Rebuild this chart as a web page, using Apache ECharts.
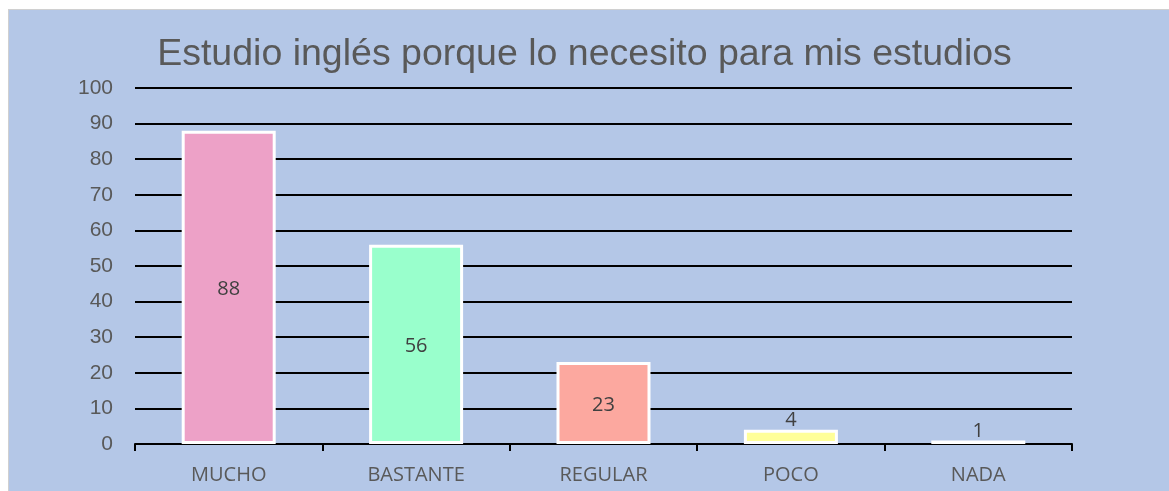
<!DOCTYPE html>
<html><head><meta charset="utf-8">
<script src="https://cdn.jsdelivr.net/npm/echarts@6/dist/echarts.min.js"></script>
<style>
html,body{margin:0;padding:0;background:#fff;}
#frame{position:absolute;left:8px;top:9px;width:1161px;height:482px;background:#B4C7E7;border-left:1px solid #d0d0d0;border-top:1px solid #d0d0d0;box-sizing:border-box;}
#c{position:absolute;left:0;top:0;width:1169px;height:491px;}
</style></head>
<body><div id="frame"></div><div id="c"></div>
<script>
const titleText = 'Estudio inglés porque lo necesito para mis estudios';
const categories = ['MUCHO','BASTANTE','REGULAR','POCO','NADA'];
const values = [88,56,23,4,1];
const colors = ['#EDA1C7','#99FFCC','#FCA89F','#FFFF99','#FFFFFF'];
const labelPositions = ['inside','inside','inside','top','top'];
const yTicks = [0,10,20,30,40,50,60,70,80,90,100];

const chart = echarts.init(document.getElementById('c'));
chart.setOption({
  backgroundColor: 'transparent',
  animation: false,
  title: {text: titleText, left: 'center', top: 31,
    textStyle: {fontFamily: 'Liberation Sans', fontSize: 37.5, fontWeight: 'normal', color: '#595959'}},
  grid: {left: 135, right: 97, top: 88, bottom: 47},
  xAxis: {type: 'category', data: categories,
    axisLine: {lineStyle: {color: '#000', width: 2}},
    axisTick: {show: true, alignWithLabel: false, length: 7, lineStyle: {color: '#000', width: 2}},
    axisLabel: {fontFamily: 'Open Sans', fontSize: 20, color: '#595959', margin: 21}},
  yAxis: {type: 'value', min: yTicks[0], max: yTicks[yTicks.length-1], interval: 10,
    axisLine: {show: false}, axisTick: {show: false},
    splitLine: {lineStyle: {color: '#000', width: 2}},
    axisLabel: {fontFamily: 'Liberation Sans', fontSize: 21, color: '#595959', margin: 22}},
  series: [{type: 'bar', barWidth: 94,
    data: values.map((v,i)=>({value: v, itemStyle: {color: colors[i]},
      label: {position: labelPositions[i]}})),
    itemStyle: {borderColor: '#fff', borderWidth: 3},
    label: {show: true, fontFamily: 'Open Sans', fontSize: 20, color: '#404040', distance: 1, offset: [0, 2]}
  }]
});
</script></body></html>
